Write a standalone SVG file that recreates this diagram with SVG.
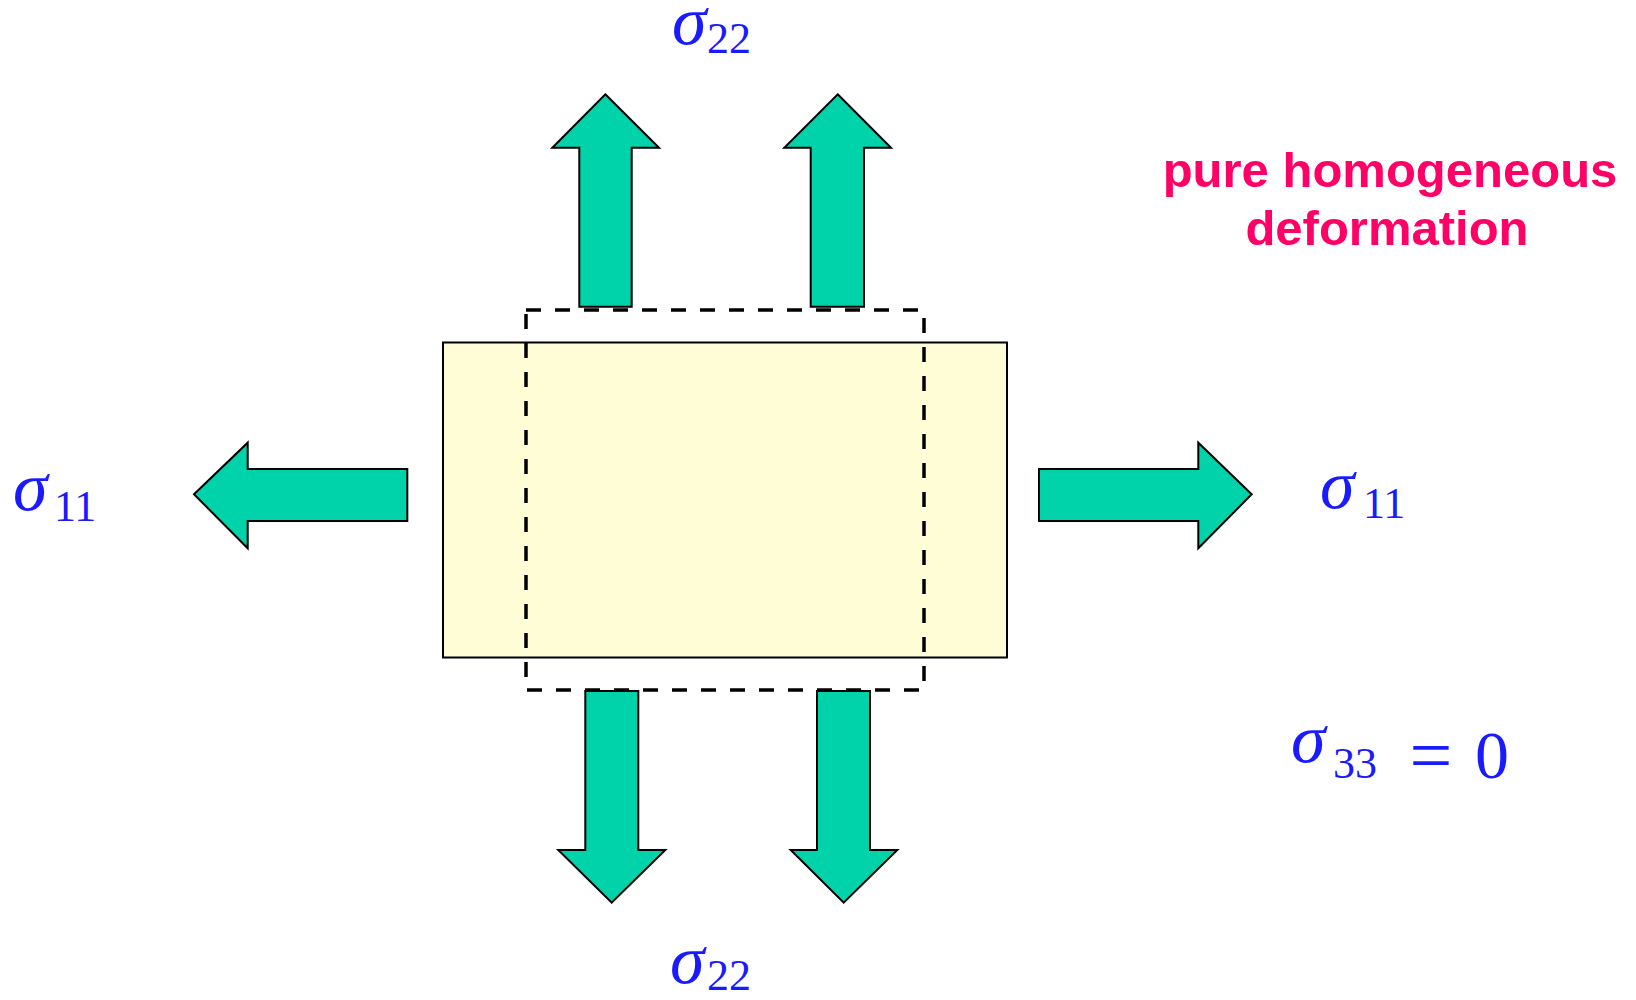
<svg xmlns="http://www.w3.org/2000/svg" width="1636" height="1000" viewBox="0 0 1636 1000">
<style>
.arrow{fill:#00D2AA;stroke:#000;stroke-width:2;stroke-linejoin:miter}
.sig{font-family:"Liberation Serif",serif;font-style:italic;font-size:70px;fill:#1a1aff}
.sub{font-family:"Liberation Serif",serif;font-size:44px;fill:#1a1aff}
.main{font-family:"Liberation Serif",serif;font-size:68px;fill:#1a1aff}
.title{font-family:"Liberation Sans",Arial,sans-serif;font-weight:bold;font-size:49px;fill:#FF0066;text-anchor:middle}
</style>
<rect width="1636" height="1000" fill="#fff"/>
<g id="connectors">
<polygon id="arrow-up-left" class="arrow" points="605.3,94.3 659,147.7 631.7,147.7 631.7,306.7 579.3,306.7 579.3,147.7 552.3,147.7"/>
<polygon id="arrow-up-right" class="arrow" points="837.7,94.3 891,147.7 864,147.7 864,306.7 810.7,306.7 810.7,147.7 784.3,147.7"/>
<polygon id="arrow-down-left" class="arrow" points="585.3,691 638.3,691 638.3,850 665.3,850 611.7,902.7 558.3,850 585.3,850"/>
<polygon id="arrow-down-right" class="arrow" points="817,691 870,691 870,850 897.3,850 843.7,902.7 790.7,850 817,850"/>
<polygon id="arrow-left" class="arrow" points="194,494.3 247.7,442.7 247.7,469 407.3,469 407.3,521 247.7,521 247.7,548.3"/>
<polygon id="arrow-right" class="arrow" points="1039,469 1198.3,469 1198.3,442.7 1251.7,494.3 1198.3,548.3 1198.3,521 1039,521"/>
</g>
<g id="block">
<rect x="443" y="342.5" width="564" height="315" fill="#FFFDD5" stroke="#000" stroke-width="2"/>
</g>
<g id="deformed-outline">
<rect x="526" y="310" width="398" height="380" fill="none" stroke="#000" stroke-width="3.5" stroke-dasharray="15 14"/>
</g>
<g id="label-s22-top">
<text class="sig" x="672" y="44">σ</text><text class="sub" x="707" y="52.7">22</text>
</g>
<g id="label-s22-bottom">
<text class="sig" x="670" y="983">σ</text><text class="sub" x="707" y="990">22</text>
</g>
<g id="label-s11-left">
<text class="sig" x="13" y="510">σ</text><text class="sub" x="54" y="520.7">11</text>
</g>
<g id="label-s11-right">
<text class="sig" x="1320" y="508.3">σ</text><text class="sub" x="1363" y="518.3">11</text>
</g>
<g id="label-s33">
<text class="sig" x="1291" y="762.3">σ</text><text class="sub" x="1333" y="778.3">33</text>
<text class="main" x="1431" y="781" text-anchor="middle" style="font-size:76px">=</text>
<text class="main" x="1492" y="778.3" text-anchor="middle">0</text>
</g>
<g id="title">
<text class="title" x="1390" y="186.7">pure homogeneous</text>
<text class="title" x="1387" y="245">deformation</text>
</g>
</svg>
